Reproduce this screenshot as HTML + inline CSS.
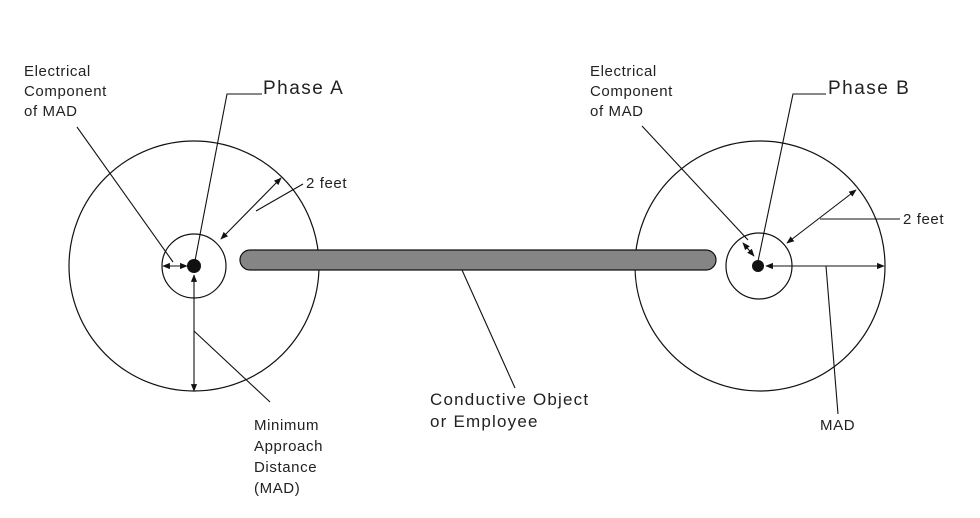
<!DOCTYPE html>
<html><head><meta charset="utf-8"><style>
html,body{margin:0;padding:0;background:#fff;}
svg{display:block;}
text{font-family:"Liberation Sans",sans-serif;fill:#222;}
</style></head><body>
<svg width="980" height="518" viewBox="0 0 980 518" xmlns="http://www.w3.org/2000/svg">
<defs>
<marker id="a" viewBox="0 0 10 10" refX="9" refY="5" markerWidth="7" markerHeight="7" orient="auto-start-reverse"><path d="M0,1 L10,5 L0,9 z" fill="#111"/></marker>
</defs>
<g fill="none" stroke="#111" stroke-width="1.2">
<circle cx="194" cy="266" r="125"/>
<circle cx="194" cy="266" r="32"/>
<circle cx="760" cy="266" r="125"/>
<circle cx="759" cy="266" r="33"/>
</g>
<rect x="240" y="250" width="476" height="20" rx="10" fill="#858585" stroke="#111" stroke-width="1.2"/>
<circle cx="194" cy="266" r="7" fill="#111"/>
<circle cx="758" cy="266" r="6" fill="#111"/>
<g fill="none" stroke="#111" stroke-width="1.1">
<polyline points="194,266 227,94 262,94"/>
<line x1="77" y1="127" x2="173" y2="262"/>
<line x1="163" y1="266" x2="187" y2="266" marker-start="url(#a)" marker-end="url(#a)"/>
<line x1="221" y1="239" x2="281" y2="178" marker-start="url(#a)" marker-end="url(#a)"/>
<polyline points="256,211 303,184"/>
<line x1="194" y1="275" x2="194" y2="391" marker-start="url(#a)" marker-end="url(#a)"/>
<line x1="194" y1="331" x2="270" y2="402"/>
<polyline points="757,266 793,94 826,94"/>
<line x1="642" y1="126" x2="748" y2="240"/>
<line x1="743" y1="243" x2="754" y2="256" marker-start="url(#a)" marker-end="url(#a)"/>
<line x1="787" y1="243" x2="856" y2="190" marker-start="url(#a)" marker-end="url(#a)"/>
<line x1="820" y1="219" x2="900" y2="219"/>
<line x1="766" y1="266" x2="884" y2="266" marker-start="url(#a)" marker-end="url(#a)"/>
<line x1="826" y1="266" x2="838" y2="414"/>
<line x1="462" y1="270" x2="515" y2="388"/>
</g>
<g font-size="15" letter-spacing="0.6">
<text x="24" y="76">Electrical</text>
<text x="24" y="96">Component</text>
<text x="24" y="116">of MAD</text>
<text x="590" y="76">Electrical</text>
<text x="590" y="96">Component</text>
<text x="590" y="116">of MAD</text>
<text x="306" y="188">2 feet</text>
<text x="903" y="224">2 feet</text>
<text x="254" y="430">Minimum</text>
<text x="254" y="451">Approach</text>
<text x="254" y="472">Distance</text>
<text x="254" y="493">(MAD)</text>
<text x="820" y="430">MAD</text>
</g>
<g font-size="17" letter-spacing="1.2">
<text x="430" y="405">Conductive Object</text>
<text x="430" y="427">or Employee</text>
<text x="263" y="94" font-size="19" letter-spacing="1.5">Phase A</text>
<text x="828" y="94" font-size="19" letter-spacing="1.5">Phase B</text>
</g>
</svg>
</body></html>
